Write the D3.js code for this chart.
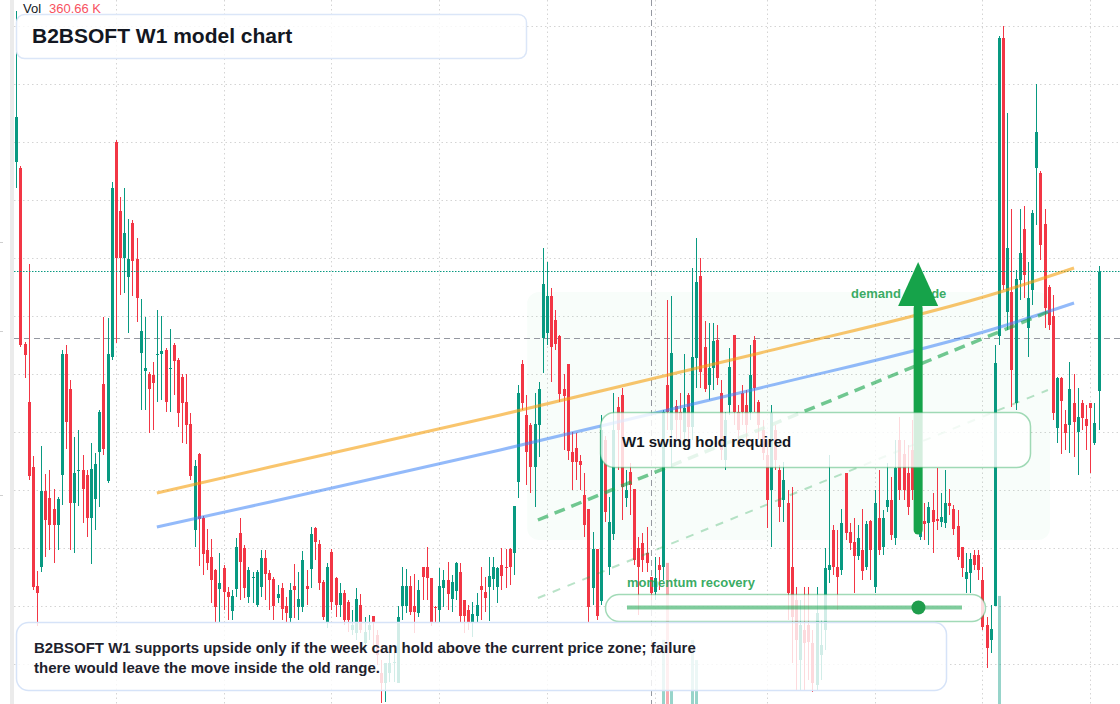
<!DOCTYPE html>
<html>
<head>
<meta charset="utf-8">
<script src="https://cdn.jsdelivr.net/npm/d3@7"></script>
<style>
  html, body { margin: 0; padding: 0; background: #fff; }
  svg { display: block; font-family: "Liberation Sans", Arial, Helvetica, sans-serif; }
</style>
</head>
<body>
<div id="chart"></div>
<script>
var graphicWidth = 1120;
var graphicHeight = 704;

var upColor = '#089981';
var downColor = '#f23645';
var textColor = '#131722';
var greenText = '#22a150';

// weekly candles, [open, high, low, close]
var ohlc = [
  [5.42,6.93,5.16,5.87],[5.36,5.38,3.57,3.59],[3.60,3.62,3.26,3.49],[3.02,4.40,2.24,2.28],[2.37,2.48,1.14,1.17],
  [1.18,1.33,0.78,1.11],[1.37,2.58,1.32,2.13],[2.13,2.30,1.47,1.84],[2.06,2.34,1.54,1.79],[1.95,2.15,1.41,1.79],
  [1.79,2.07,1.54,2.05],[2.29,3.54,1.99,3.50],[3.50,3.59,2.55,2.82],[3.15,3.24,1.54,2.01],[2.01,2.67,1.51,2.31],
  [2.33,2.74,1.98,2.34],[2.34,2.49,1.81,2.15],[2.29,2.34,1.67,1.86],[1.86,2.61,1.40,2.35],[2.05,2.51,1.74,2.40],
  [2.52,2.94,1.97,2.92],[3.20,3.87,2.49,2.55],[2.23,3.86,2.21,3.50],[3.47,5.22,3.44,5.16],[5.62,5.64,3.61,4.46],
  [4.93,5.07,4.09,4.46],[4.46,5.16,4.11,4.71],[4.27,4.85,3.71,4.45],[4.81,4.84,4.08,4.43],[4.45,4.66,3.82,4.06],
  [3.51,4.05,2.94,3.73],[3.33,3.87,2.94,3.36],[3.30,3.32,2.71,3.15],[3.29,3.42,2.74,3.21],[3.49,3.94,3.02,3.50],
  [3.50,3.88,3.04,3.53],[3.54,3.56,2.92,3.02],[3.35,3.75,2.92,3.36],[3.59,3.61,3.09,3.43],[3.44,3.46,2.77,2.91],
  [3.27,3.30,2.61,3.01],[3.02,3.30,2.60,2.79],[2.80,2.91,2.24,2.28],[1.74,2.44,1.57,2.38],[2.50,2.51,1.38,1.85],
  [1.86,1.88,1.29,1.50],[1.54,1.75,1.34,1.41],[1.47,1.65,1.01,1.24],[1.34,1.35,0.82,0.97],[1.15,1.51,0.82,1.21],
  [1.36,1.39,0.94,1.12],[1.12,1.17,0.84,1.07],[0.93,1.14,0.84,1.08],[1.15,1.66,1.07,1.57],[1.71,1.86,1.04,1.42],
  [1.56,1.59,1.06,1.16],[1.07,1.37,1.01,1.34],[1.26,1.32,1.01,1.27],[0.99,1.34,0.97,1.32],[1.17,1.54,1.07,1.46],
  [1.46,1.54,1.04,1.30],[1.31,1.34,0.94,1.24],[1.25,1.27,0.84,0.98],[1.06,1.19,1.01,1.10],[1.16,1.21,0.84,0.95],
  [0.98,1.07,0.82,0.91],[0.86,1.21,0.82,1.14],[1.18,1.40,0.86,1.14],[0.97,1.32,0.84,1.05],[0.97,1.53,0.92,1.44],
  [1.18,1.34,0.99,1.15],[1.35,1.77,1.16,1.70],[1.76,1.77,1.44,1.62],[1.60,1.64,1.14,1.21],[1.22,1.24,0.84,0.87],
  [0.81,1.41,0.76,1.37],[1.52,1.55,0.94,1.02],[1.26,1.27,0.87,0.99],[0.99,1.21,0.87,1.11],[1.11,1.14,0.79,0.84],
  [1.02,1.04,0.72,0.84],[0.74,0.94,0.69,0.79],[0.71,1.16,0.64,1.05],[0.99,1.10,0.71,0.74],[0.61,0.87,0.54,0.72],
  [0.74,0.89,0.64,0.79],[0.88,0.88,0.59,0.82],[0.69,0.74,0.39,0.49],[0.31,0.44,0.01,0.21],[0.21,0.41,0.02,0.41],
  [0.31,0.51,0.22,0.41],[0.41,0.51,0.22,0.42],[0.21,0.98,0.21,0.87],[0.98,1.37,0.84,1.18],[0.98,1.35,0.91,1.18],
  [1.18,1.28,0.89,0.92],[0.98,1.30,0.71,0.92],[0.91,1.24,0.87,1.14],[1.37,1.37,1.04,1.27],[1.37,1.57,1.04,1.26],
  [1.26,1.26,0.78,0.82],[0.97,0.98,0.82,0.96],[0.94,1.36,0.82,1.18],[1.16,1.34,0.97,1.24],[1.24,1.42,0.94,1.10],
  [1.05,1.29,0.92,1.22],[1.13,1.42,1.04,1.41],[1.32,1.41,0.82,0.88],[1.04,1.04,0.71,0.88],[0.94,0.99,0.74,0.82],
  [0.81,1.02,0.67,0.90],[0.88,1.11,0.82,0.99],[1.18,1.37,0.84,1.14],[1.12,1.27,0.92,1.06],[1.17,1.47,0.83,1.28],
  [1.25,1.47,1.14,1.37],[1.17,1.37,1.01,1.36],[1.39,1.56,1.14,1.28],[1.37,1.55,1.16,1.36],[1.55,1.56,1.19,1.37],
  [1.51,1.98,1.29,1.98],[2.22,3.19,2.06,3.11],[3.40,3.44,2.94,3.01],[2.89,3.09,2.19,2.52],[2.79,2.81,2.11,2.37],
  [2.37,3.11,1.97,2.80],[2.79,3.22,2.47,3.15],[3.66,4.56,3.31,4.20],[3.71,4.42,3.59,4.08],[4.08,4.16,3.22,3.57],
  [3.84,3.94,3.54,3.60],[3.68,3.69,3.02,3.10],[3.15,3.30,2.54,3.08],[3.40,3.40,2.44,2.53],[2.52,2.72,2.14,2.42],
  [2.56,2.71,2.24,2.42],[2.43,2.49,2.14,2.39],[2.09,2.31,1.67,1.79],[1.95,1.95,0.82,0.97],[1.16,1.72,0.99,1.55],
  [1.55,1.55,0.84,0.88],[1.03,2.89,0.99,2.74],[2.64,2.68,1.82,1.92],[1.37,2.07,1.29,1.82],[1.70,3.11,1.64,2.74],
  [2.97,3.07,2.34,2.74],[3.09,3.16,1.84,2.17],[2.06,2.34,1.97,2.14],[2.32,2.41,1.89,2.19],[2.15,2.15,1.39,1.44],
  [1.56,1.67,0.89,1.37],[1.61,1.71,1.32,1.44],[1.51,1.77,1.32,1.41],[1.27,1.27,1.04,1.11],[1.12,1.47,1.04,1.26],
  [1.39,1.47,1.14,1.34],[1.37,2.94,1.24,2.92],[3.19,4.04,2.74,2.92],[2.74,4.08,2.37,3.51],[2.98,3.04,2.64,2.84],
  [2.92,3.11,2.64,2.84],[2.72,3.50,2.59,2.96],[3.09,3.11,2.64,2.77],[2.77,4.36,2.64,3.47],[3.46,4.66,3.16,4.22],
  [4.28,4.46,3.16,3.32],[3.57,3.83,3.12,3.15],[3.19,3.81,3.04,3.36],[3.36,3.81,3.14,3.63],[3.64,3.79,3.19,3.26],
  [3.11,3.24,2.44,2.54],[2.44,2.92,2.34,2.84],[2.99,3.56,2.89,3.37],[3.69,3.69,2.79,2.92],[2.92,2.99,2.64,2.74],
  [3.11,3.19,2.79,2.92],[2.99,3.14,2.64,2.79],[2.92,3.59,2.84,3.29],[3.64,3.68,2.92,3.16],[3.02,3.04,2.64,2.79],
  [2.74,2.84,2.44,2.51],[2.49,2.64,1.76,2.04],[2.14,2.99,1.57,2.91],[2.74,2.79,2.34,2.44],[2.34,2.39,1.82,1.97],
  [2.04,2.42,1.82,2.24],[2.01,2.14,0.84,1.11],[1.37,2.17,0.41,0.87],[1.04,1.17,0.14,0.64],[0.44,1.04,0.14,0.79],
  [0.74,1.17,0.14,0.61],[0.79,1.17,0.24,0.62],[0.61,0.74,0.12,0.21],[0.19,1.17,0.14,0.91],[0.49,0.84,0.24,0.59],
  [0.74,1.56,0.54,1.36],[1.34,2.49,1.21,1.39],[1.74,1.79,1.29,1.37],[1.37,1.74,0.94,1.27],[1.34,1.95,1.29,1.81],
  [2.31,2.31,1.64,1.71],[1.72,1.81,1.54,1.61],[1.62,1.86,1.11,1.48],[1.48,1.79,1.44,1.66],[1.54,1.95,1.24,1.33],
  [1.37,1.83,1.34,1.80],[1.83,1.84,1.24,1.54],[1.17,2.14,1.11,2.01],[1.86,2.34,1.49,1.54],[1.57,1.94,1.49,1.86],
  [1.97,2.41,1.92,2.04],[2.04,2.27,1.64,1.69],[1.66,2.64,1.59,2.36],[2.64,2.87,2.04,2.14],[2.50,2.64,2.04,2.14],
  [2.31,2.59,1.89,1.97],[2.54,2.84,2.04,2.14],[1.84,2.64,1.74,2.34],[1.67,2.09,1.64,2.04],[1.83,2.01,1.64,1.80],
  [1.81,2.02,1.59,1.97],[1.94,2.11,1.51,1.82],[1.85,2.36,1.74,1.83],[1.82,2.11,1.77,1.87],[1.81,2.34,1.76,2.01],
  [2.01,2.15,1.89,1.98],[1.95,1.99,1.69,1.75],[1.78,1.94,1.44,1.47],[1.57,1.57,1.27,1.36],[1.25,1.51,1.11,1.32],
  [1.31,1.51,1.11,1.45],[1.49,1.54,1.34,1.39],[1.49,1.54,1.24,1.34],[1.24,1.37,0.74,0.77],[0.79,0.87,0.36,0.56],
  [0.64,0.99,0.51,0.75],[0.98,3.59,0.98,3.41],[3.68,6.68,3.59,6.66],[6.66,6.78,4.14,4.19],[3.92,5.91,3.74,4.56],
  [4.12,4.95,2.97,3.34],[3.01,4.34,2.94,4.25],[4.24,4.95,4.04,4.51],[4.75,4.98,4.06,4.29],[3.76,4.42,3.47,4.06],
  [4.14,4.94,3.99,4.91],[5.36,6.20,4.79,5.72],[5.31,5.33,4.44,4.59],[4.80,4.95,3.76,3.96],[4.17,4.19,3.74,3.79],
  [3.88,4.09,2.84,2.91],[2.76,3.27,2.61,3.26],[3.26,3.27,2.50,3.03],[2.80,2.94,2.54,2.71],[2.79,3.42,2.51,3.15],
  [3.01,3.30,2.47,2.82],[2.72,3.16,2.29,2.87],[3.01,3.04,2.74,2.86],[2.85,2.99,2.54,2.78],[3.01,3.01,2.31,2.96],
  [2.61,3.01,2.59,2.81],[3.13,4.38,2.74,4.32]
];

// visible volume bars (candle index, volume in thousands)
var volumeBars = [[156, 2290], [157, 5040], [158, 500], [163, 2290], [164, 1570], [237, 3860]];
var volumeLabel = '360.66 K';

// gridlines
var gridPrices = [6.78, 6.20, 5.62, 5.04, 4.46, 3.88, 3.30, 2.72, 2.14, 1.56, 0.98, 0.40];
var gridWeeks = [24, 50, 76, 102, 128, 154, 181, 207, 233, 259];

// crosshair
var crossWeek = 153;
var crossPrice = 3.66;

// trend lines [week index, price]
var upperChannel = [[33.9, 2.11], [61.2, 2.37], [116.7, 2.89], [179.4, 3.51], [237.3, 4.12], [255.1, 4.36]];
var lowerChannel = [[33.9, 1.77], [61.2, 2.02], [116.7, 2.54], [179.4, 3.16], [237.3, 3.77], [255.1, 4.01]];
var supportTrend = [[125.8, 1.84], [248.8, 3.92]];
var supportLower = [[125.8, 1.06], [248.8, 3.14]];

// demand zone and arrow
var zoneWeeks = [123.2, 249.3];
var zonePrices = [1.64, 4.12];
var arrowWeek = 217.5;
var arrowPrices = [1.74, 3.98, 4.42];  // tail, head base, tip

var momentumValue = 0.87;

var titleText = 'B2BSOFT W1 model chart';
var noteLines = [
  'B2BSOFT W1 supports upside only if the week can hold above the current price zone; failure',
  'there would leave the move inside the old range.'
];

window.onload = function() {
    render();
};

function render() {
    var svg = d3.select('#chart').append('svg')
        .attr('width', graphicWidth)
        .attr('height', graphicHeight);

    var x = d3.scaleLinear().domain([0, ohlc.length - 1]).range([16.3, 1098.5]);
    var y = d3.scaleLinear().domain([0, 7.04]).range([graphicHeight, 0]);
    var yVol = d3.scaleLinear().domain([0, 6000]).range([graphicHeight, 536]);

    // left strip
    svg.append('rect')
        .attr('x', 10).attr('y', 0)
        .attr('width', 4).attr('height', graphicHeight)
        .attr('fill', '#ebebeb');
    [242, 331, 495].forEach(function(t) {
        svg.append('line')
            .attr('x1', 0).attr('x2', 3).attr('y1', t + 0.5).attr('y2', t + 0.5)
            .attr('stroke', '#cfcfcf');
    });

    // grid
    var grid = svg.append('g');
    grid.selectAll('.h').data(gridPrices).enter().append('line')
        .attr('x1', 14).attr('x2', graphicWidth)
        .attr('y1', function(d) { return Math.round(y(d)) + 0.5; })
        .attr('y2', function(d) { return Math.round(y(d)) + 0.5; })
        .attr('stroke', '#d4d4d4')
        .attr('stroke-dasharray', '1.5 3');
    grid.selectAll('.v').data(gridWeeks).enter().append('line')
        .attr('x1', function(d) { return Math.round(x(d)) + 0.5; })
        .attr('x2', function(d) { return Math.round(x(d)) + 0.5; })
        .attr('y1', 0).attr('y2', graphicHeight)
        .attr('stroke', '#d4d4d4')
        .attr('stroke-dasharray', '1.5 3');

    // demand zone
    svg.append('rect')
        .attr('x', x(zoneWeeks[0]))
        .attr('y', y(zonePrices[1]))
        .attr('width', x(zoneWeeks[1]) - x(zoneWeeks[0]))
        .attr('height', y(zonePrices[0]) - y(zonePrices[1]))
        .attr('rx', 12)
        .attr('fill', '#22c55e')
        .attr('fill-opacity', 0.03);

    // crosshair
    svg.append('line')
        .attr('x1', Math.round(x(crossWeek)) + 0.5).attr('x2', Math.round(x(crossWeek)) + 0.5)
        .attr('y1', 0).attr('y2', graphicHeight)
        .attr('stroke', '#9598a1')
        .attr('stroke-dasharray', '6 4');
    svg.append('line')
        .attr('x1', 14).attr('x2', graphicWidth)
        .attr('y1', Math.round(y(crossPrice)) + 0.5).attr('y2', Math.round(y(crossPrice)) + 0.5)
        .attr('stroke', '#9598a1')
        .attr('stroke-dasharray', '6 4');

    // volume
    svg.append('g').selectAll('rect').data(volumeBars).enter().append('rect')
        .attr('x', function(d) { return Math.round(x(d[0])) - 1; })
        .attr('y', function(d) { return yVol(d[1]); })
        .attr('width', 3)
        .attr('height', function(d) { return graphicHeight - yVol(d[1]); })
        .attr('fill', function(d) {
            var c = ohlc[d[0]];
            return c[3] >= c[0] ? upColor : downColor;
        })
        .attr('fill-opacity', 0.42);

    // candles
    var candles = svg.append('g').attr('shape-rendering', 'crispEdges');
    var candle = candles.selectAll('g').data(ohlc).enter().append('g');
    candle.append('line')
        .attr('x1', function(d, i) { return Math.round(x(i)) + 0.5; })
        .attr('x2', function(d, i) { return Math.round(x(i)) + 0.5; })
        .attr('y1', function(d) { return y(d[1]); })
        .attr('y2', function(d) { return y(d[2]); })
        .attr('stroke', function(d) { return d[3] >= d[0] ? upColor : downColor; })
        .attr('stroke-width', 1);
    candle.append('rect')
        .attr('x', function(d, i) { return Math.round(x(i)) - 1; })
        .attr('y', function(d) { return y(Math.max(d[0], d[3])); })
        .attr('width', 3)
        .attr('height', function(d) { return Math.max(1, Math.abs(y(d[0]) - y(d[3]))); })
        .attr('fill', function(d) { return d[3] >= d[0] ? upColor : downColor; });

    // last price line
    var last = ohlc[ohlc.length - 1][3];
    svg.append('line')
        .attr('x1', 14).attr('x2', graphicWidth)
        .attr('y1', Math.round(y(last)) - 0.5).attr('y2', Math.round(y(last)) - 0.5)
        .attr('stroke', upColor)
        .attr('stroke-dasharray', '1.5 1.5');

    // trend lines
    var curved = d3.line()
        .x(function(d) { return x(d[0]); })
        .y(function(d) { return y(d[1]); })
        .curve(d3.curveMonotoneX);
    svg.append('path').attr('d', curved(upperChannel))
        .attr('fill', 'none').attr('stroke', '#f59e0b')
        .attr('stroke-opacity', 0.6).attr('stroke-width', 3);
    svg.append('path').attr('d', curved(lowerChannel))
        .attr('fill', 'none').attr('stroke', '#3b82f6')
        .attr('stroke-opacity', 0.55).attr('stroke-width', 3);
    svg.append('path').attr('d', curved(supportTrend))
        .attr('fill', 'none').attr('stroke', '#16a34a')
        .attr('stroke-opacity', 0.6).attr('stroke-width', 3.5)
        .attr('stroke-dasharray', '11 7');
    svg.append('path').attr('d', curved(supportLower))
        .attr('fill', 'none').attr('stroke', '#16a34a')
        .attr('stroke-opacity', 0.3).attr('stroke-width', 2)
        .attr('stroke-dasharray', '8 8');

    // zone label, partly under the arrow
    svg.append('text')
        .attr('x', 851).attr('y', 298)
        .attr('fill', greenText)
        .attr('fill-opacity', 0.9)
        .style('font-size', '13px')
        .style('font-weight', 'bold')
        .text('demand upside');

    // arrow
    var ax = x(arrowWeek);
    svg.append('line')
        .attr('x1', ax).attr('x2', ax)
        .attr('y1', y(arrowPrices[0])).attr('y2', y(arrowPrices[1]) + 2)
        .attr('stroke', '#16a34a')
        .attr('stroke-width', 9)
        .attr('stroke-linecap', 'round');
    svg.append('path')
        .attr('d', d3.line()([
            [ax - 20, y(arrowPrices[1])],
            [ax, y(arrowPrices[2])],
            [ax + 20, y(arrowPrices[1])]
        ]) + 'Z')
        .attr('fill', '#16a34a');

    // annotation boxes
    makeBox(svg, 16, 14, 510, 44, 8, '#dbe6f8');
    svg.append('text')
        .attr('x', 32).attr('y', 43)
        .attr('fill', textColor)
        .style('font-size', '21px')
        .style('font-weight', 'bold')
        .text(titleText);

    makeBox(svg, 600, 412, 430, 55, 14, '#16a34a', 0.4);
    svg.append('text')
        .attr('x', 622).attr('y', 447)
        .attr('fill', textColor)
        .style('font-size', '15px')
        .style('font-weight', 'bold')
        .text('W1 swing hold required');

    // momentum gauge
    svg.append('text')
        .attr('x', 627).attr('y', 587)
        .attr('fill', greenText)
        .attr('fill-opacity', 0.9)
        .style('font-size', '13px')
        .style('font-weight', 'bold')
        .text('momentum recovery');
    makeBox(svg, 605, 594, 380, 27, 13.5, '#16a34a', 0.4);
    var m = d3.scaleLinear().domain([0, 1]).range([627, 962]);
    svg.append('line')
        .attr('x1', m(0)).attr('x2', m(1))
        .attr('y1', 607.5).attr('y2', 607.5)
        .attr('stroke', '#16a34a')
        .attr('stroke-opacity', 0.55)
        .attr('stroke-width', 4);
    svg.append('circle')
        .attr('cx', m(momentumValue)).attr('cy', 607.5)
        .attr('r', 7)
        .attr('fill', '#1f9d4c');

    makeBox(svg, 16, 622, 930, 68, 12, '#d6e3f8');
    svg.append('text')
        .attr('fill', '#1e222d')
        .style('font-size', '15px')
        .style('font-weight', 'bold')
        .selectAll('tspan').data(noteLines).enter().append('tspan')
        .attr('x', 34)
        .attr('y', function(d, i) { return 653 + i * 20; })
        .text(function(d) { return d; });

    // volume legend
    var legend = svg.append('text')
        .attr('x', 23).attr('y', 13)
        .style('font-size', '13px');
    legend.append('tspan').attr('fill', textColor).text('Vol');
    legend.append('tspan').attr('x', 49).attr('fill', '#f7525f').text(volumeLabel);
}

/*
 * rounded white box, slightly see-through
 */
function makeBox(svg, bx, by, bw, bh, r, stroke, strokeOpacity) {
    svg.append('rect')
        .attr('x', bx + 0.5).attr('y', by + 0.5)
        .attr('width', bw).attr('height', bh)
        .attr('rx', r)
        .attr('fill', '#ffffff')
        .attr('fill-opacity', 0.82)
        .attr('stroke', stroke)
        .attr('stroke-opacity', strokeOpacity || 1)
        .attr('stroke-width', 1.5);
}
</script>
</body>
</html>
